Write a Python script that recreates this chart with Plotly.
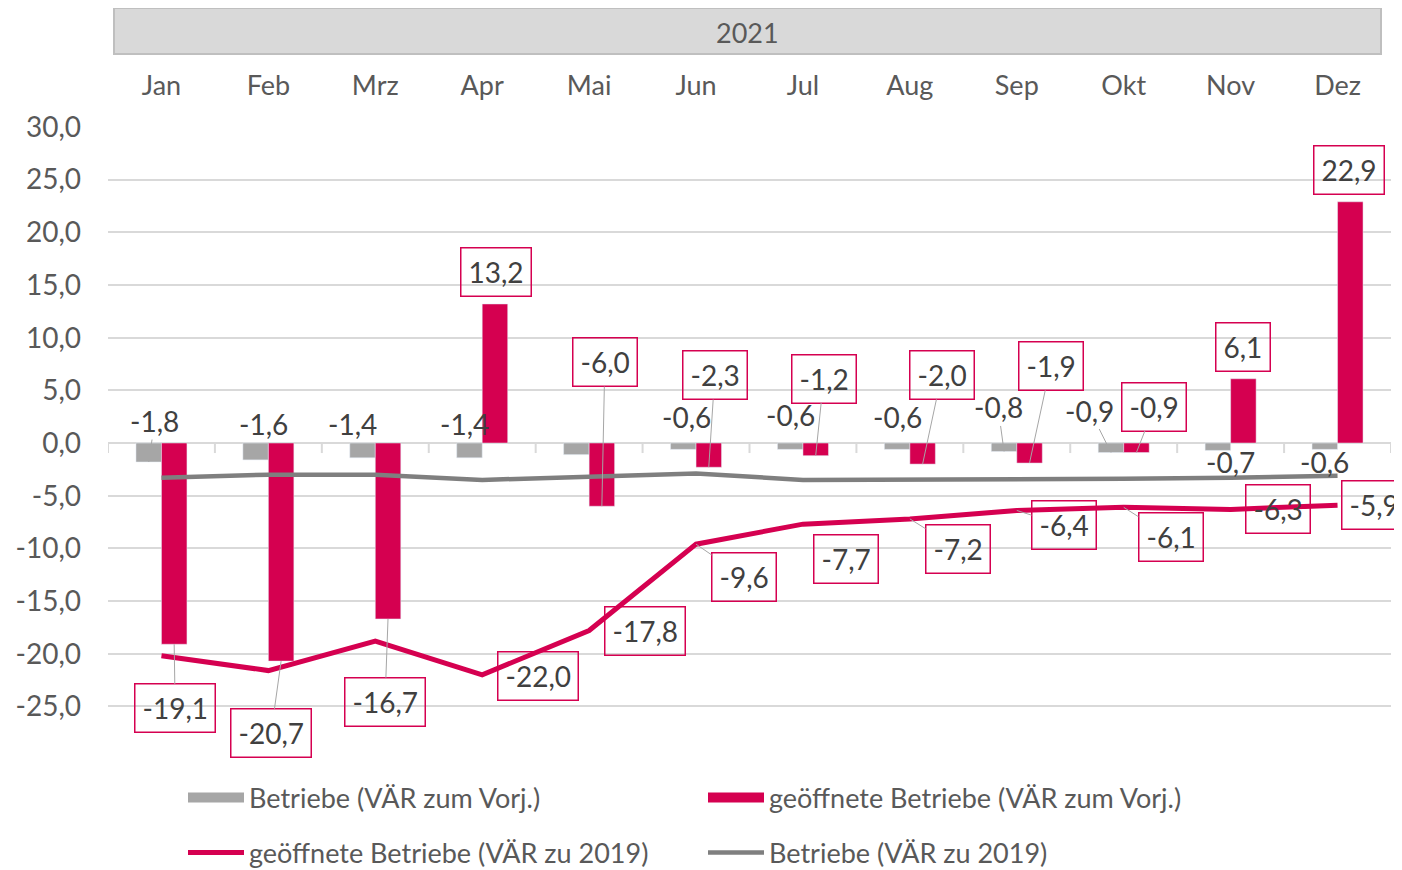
import plotly.graph_objects as go

# ---------------- data ----------------
months = ["Jan", "Feb", "Mrz", "Apr", "Mai", "Jun", "Jul", "Aug", "Sep", "Okt", "Nov", "Dez"]
year_label = "2021"
betriebe_vj = [-1.8, -1.6, -1.4, -1.4, -1.1, -0.6, -0.6, -0.6, -0.8, -0.9, -0.7, -0.6]
geoeffnet_vj = [-19.1, -20.7, -16.7, 13.2, -6.0, -2.3, -1.2, -2.0, -1.9, -0.9, 6.1, 22.9]
geoeffnet_2019 = [-20.2, -21.6, -18.8, -22.0, -17.8, -9.6, -7.7, -7.2, -6.4, -6.1, -6.3, -5.9]
betriebe_2019 = [-3.3, -3.0, -3.0, -3.5, -3.2, -2.9, -3.5, -3.5, -3.4, -3.4, -3.3, -3.1]
y_ticks = [-25, -20, -15, -10, -5, 0, 5, 10, 15, 20, 25, 30]
y_ticktext = [f"{v:.1f}".replace(".", ",") for v in y_ticks]

names = {
    "b_vj": "Betriebe (VÄR zum Vorj.)",
    "g_vj": "geöffnete Betriebe (VÄR zum Vorj.)",
    "g_19": "geöffnete Betriebe (VÄR zu 2019)",
    "b_19": "Betriebe (VÄR zu 2019)",
}

# label placement (pixel offsets of label centre from the data point, leader line yes/no)
gray_lab = [(6, -41, True), (8, -36, False), (-10, -34, False), (-5, -34, False), None,
            (3, -32, False), (0, -34, False), (0, -32, False), (-6, -44, True),
            (-21, -42, True), (13, 12, False), (0, 13, False)]
pink_lab = [(1, 64, True), (-10, 72, True), (-3, 83, True), (1, -32, False), (3, -144, True),
            (6, -92, True), (8, -77, True), (19, -89, True), (21, -97, True), (18, -46, True),
            (0, -32, False), (-1, -32, False)]
line_lab = [None, None, None, (56, 1, False), (56, 0, False), (48, 33, True), (43, 35, False),
            (48, 30, True), (47, 15, True), (47, 30, True), (47, 0, False), (36, 0, False)]

# ---------------- style ----------------
PINK = "#d50050"
GRAY_BAR = "#a6a6a6"
GRAY_LINE = "#7f7f7f"
GRID = "#d9d9d9"
TXT = "#404040"
AX_TXT = "#595959"
FONT = "Lato, Roboto, sans-serif"
FS = 28

OFF = 8                      # page body margin
W, H = 1402 - OFF, 870 - OFF
L, R, T, B = 100, 11, 119, 132
YMIN, YMAX = -28, 30
BAR_OFF = 0.119


def px_x(p):
    return (p - OFF - L) / (W - L - R)


def px_y(p):
    return (H - B - (p - OFF)) / (H - B - T)


def fmt(v):
    return f"{v:.1f}".replace(".", ",")


fig = go.Figure()
fig.add_trace(go.Bar(x=months, y=betriebe_vj, name=names["b_vj"], marker_color=GRAY_BAR,
                     showlegend=False, hoverinfo="skip"))
fig.add_trace(go.Bar(x=months, y=geoeffnet_vj, name=names["g_vj"], marker_color=PINK,
                     showlegend=False, hoverinfo="skip"))
fig.add_trace(go.Scatter(x=months, y=geoeffnet_2019, name=names["g_19"], mode="lines",
                         line=dict(color=PINK, width=5), legend="legend2"))
fig.add_trace(go.Scatter(x=months, y=betriebe_2019, name=names["b_19"], mode="lines",
                         line=dict(color=GRAY_LINE, width=4.5), legend="legend2"))
# legend swatches for the bar series (wide rectangles like the original)
fig.add_trace(go.Scatter(x=[None], y=[None], name=names["b_vj"], mode="lines",
                         line=dict(color=GRAY_BAR, width=17), legend="legend"))
fig.add_trace(go.Scatter(x=[None], y=[None], name=names["g_vj"], mode="lines",
                         line=dict(color=PINK, width=17), legend="legend"))

annotations = []


def add_label(x, y, spec, boxed):
    if spec is None:
        return
    ax, ay, leader = spec
    a = dict(x=x, y=y, xref="x", yref="y", text=fmt(y), showarrow=True, ax=ax, ay=ay,
             arrowhead=0, arrowwidth=1, standoff=0,
             arrowcolor="#a6a6a6" if leader else "rgba(0,0,0,0)",
             font=dict(family=FONT, size=FS, color=TXT))
    if boxed:
        a.update(bordercolor=PINK, borderwidth=1.5, borderpad=7, height=33)
    annotations.append(a)


for i, v in enumerate(betriebe_vj):
    add_label(i - BAR_OFF, v, gray_lab[i], False)
for i, v in enumerate(geoeffnet_vj):
    add_label(i + BAR_OFF, v, pink_lab[i], True)
for i, v in enumerate(geoeffnet_2019):
    add_label(i, v, line_lab[i], True)

# year header text
annotations.append(dict(x=px_x(747), y=px_y(32), xref="paper", yref="paper", text=year_label,
                        xanchor="center", yanchor="middle", showarrow=False,
                        font=dict(family=FONT, size=FS - 1, color=AX_TXT)))

shapes = [dict(type="rect", xref="paper", yref="paper", x0=px_x(114), x1=px_x(1381),
               y0=px_y(54), y1=px_y(8), fillcolor="#d9d9d9", line=dict(color="#bfbfbf", width=2),
               layer="below")]
# small tick marks on the zero line at category boundaries
for k in range(len(months) + 1):
    shapes.append(dict(type="line", xref="x", yref="y", x0=k - 0.5, x1=k - 0.5, y0=0, y1=-0.95,
                       line=dict(color=GRID, width=2), layer="below"))

legend_common = dict(orientation="h", xanchor="left", yanchor="middle", entrywidth=449,
                     itemwidth=56, font=dict(family=FONT, size=FS - 1, color=AX_TXT),
                     bgcolor="rgba(0,0,0,0)", traceorder="normal")

fig.update_layout(
    width=W, height=H,
    margin=dict(l=L, r=R, t=T, b=B, autoexpand=False),
    paper_bgcolor="white", plot_bgcolor="white",
    barmode="group", bargap=0.523, bargroupgap=0,
    font=dict(family=FONT, size=FS, color=AX_TXT),
    annotations=annotations, shapes=shapes,
    xaxis=dict(type="category", side="top", range=[-0.5, 11.5], showgrid=False, ticks="",
               showline=False, zeroline=False, ticklabelstandoff=26,
               tickfont=dict(family=FONT, size=FS - 1, color=AX_TXT), automargin=False),
    yaxis=dict(range=[YMIN, YMAX], tickvals=y_ticks, ticktext=y_ticktext, showgrid=True,
               gridcolor=GRID, gridwidth=2, zeroline=True, zerolinecolor=GRID, zerolinewidth=2,
               ticks="", showline=False, ticklabelstandoff=26,
               tickfont=dict(family=FONT, size=FS, color=AX_TXT), automargin=False),
    legend=dict(x=px_x(183), y=px_y(798), **legend_common),
    legend2=dict(x=px_x(183), y=px_y(853), **legend_common),
    showlegend=True,
)

fig.write_html("out.html")
